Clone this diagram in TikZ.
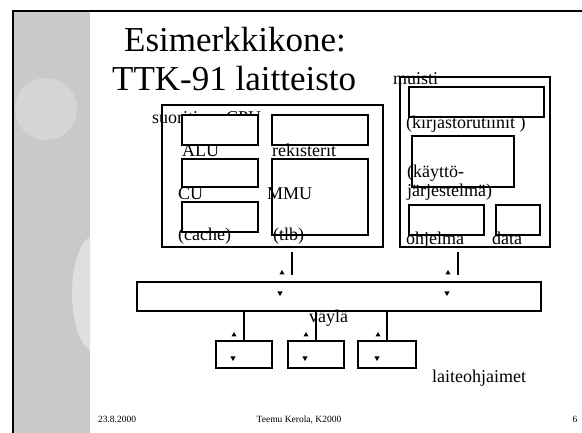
\documentclass[tikz,border=0pt]{standalone}
\usepackage{fontspec}
\setmainfont{Liberation Serif}
\usetikzlibrary{shapes.geometric}
\definecolor{bandgray}{RGB}{201,201,201}
\definecolor{spotgray}{RGB}{213,213,213}
\definecolor{palegray}{RGB}{223,223,223}

\begin{document}
\begin{tikzpicture}[x=1pt, y=-1pt,
  box/.style={rectangle, draw, fill=white, line width=1.2pt, inner sep=0pt, outer sep=0pt},
  frame/.style={rectangle, draw, line width=1.2pt, inner sep=0pt, outer sep=0pt},
  lbl/.style={anchor=base west, inner sep=0pt, font=\fontsize{18}{20}\selectfont},
  foot/.style={anchor=base, inner sep=0pt, font=\fontsize{9.5}{11}\selectfont},
  link/.style={line width=1.2pt},
  tipup/.style={regular polygon, regular polygon sides=3, fill, draw=none, inner sep=0pt, minimum size=6pt},
  tipdown/.style={tipup, shape border rotate=180}
]
\useasboundingbox (0,0) rectangle (582,433);

% Slide background
\fill[bandgray] (13,11) rectangle (90,433);
\begin{scope}
  \clip (13,11) rectangle (90,433);
  \fill[spotgray] (46,109) circle (31pt);
  \fill[palegray] (95,293.5) ellipse (23pt and 58pt);
\end{scope}
\draw[line width=1.6pt] (582,11) -| (13,433);

% Title
\node[anchor=base west, inner sep=0pt, font=\fontsize{35}{40}\selectfont] (title1) at (124,52) {Esimerkkikone:};
\node[anchor=base west, inner sep=0pt, font=\fontsize{35}{40}\selectfont] (title2) at (112,91) {TTK-91 laitteisto};

% Processor
\node[frame, minimum width=221pt, minimum height=142pt] (cpu) at (272.5,176) {};
\node[lbl] (cpulbl) at (152,124) {suoritin};
\node[lbl] (cpuname) at (226,124) {CPU};

\node[box, minimum width=76pt, minimum height=30pt] (alu) at (220,130) {};
\node[box, minimum width=76pt, minimum height=28pt] (cu) at (220,173) {};
\node[box, minimum width=76pt, minimum height=30pt] (cache) at (220,217) {};
\node[box, minimum width=96pt, minimum height=30pt] (regs) at (320,130) {};
\node[box, minimum width=96pt, minimum height=76pt] (mmu) at (320,197) {};

\node[lbl] (alulbl) at (182,157) {ALU};
\node[lbl] (regslbl) at (272,157) {rekisterit};
\node[lbl] (culbl) at (178,200) {CU};
\node[lbl] (mmulbl) at (267,200) {MMU};
\node[lbl] (cachelbl) at (178,241) {(cache)};
\node[lbl] (tlblbl) at (273,241) {(tlb)};

% Memory
\node[frame, minimum width=150pt, minimum height=170pt] (mem) at (475,162) {};
\node[box, minimum width=135pt, minimum height=30pt] (lib) at (476.5,102) {};
\node[box, minimum width=102pt, minimum height=51pt] (os) at (463,161.5) {};
\node[box, minimum width=75pt, minimum height=30pt] (prog) at (446.5,220) {};
\node[box, minimum width=44pt, minimum height=30pt] (data) at (518,220) {};

\node[lbl] (memlbl) at (393,85) {muisti};
\node[lbl] (liblbl) at (406,129) {(kirjastorutiinit )};
\node[lbl] (oslbl) at (407,178) {(käyttö-};
\node[lbl] (oslbl2) at (407,197) {järjestelmä)};
\node[lbl] (proglbl) at (406,245) {ohjelma};
\node[lbl] (datalbl) at (492,245) {data};

% Bus and device controllers
\node[frame, minimum width=404pt, minimum height=29pt] (bus) at (339,296.5) {};
\node[lbl] (buslbl) at (309,323) {väylä};

\node[frame, minimum width=56pt, minimum height=27pt] (dev1) at (244,354.5) {};
\node[frame, minimum width=56pt, minimum height=27pt] (dev2) at (316,354.5) {};
\node[frame, minimum width=58pt, minimum height=27pt] (dev3) at (387,354.5) {};
\node[lbl] (devlbl) at (432,382) {laiteohjaimet};

% Connectors
\draw[link, shorten <=5pt, shorten >=7pt] ([xshift=19.5pt]cpu.south) -- ([xshift=19.5pt]cpu.south |- bus.north);
\draw[link, shorten <=5pt, shorten >=7pt] ([xshift=-17pt]mem.south) -- ([xshift=-17pt]mem.south |- bus.north);
\draw[link] (dev1.north |- bus.south) -- (dev1.north);
\draw[link] (dev2.north |- bus.south) -- (dev2.north);
\draw[link] (dev3.north |- bus.south) -- (dev3.north);

% Small arrow marks
\node[tipup] (cpuup) at (282,273) {};
\node[tipdown] (cpudown) at (280,293) {};
\node[tipup] (memup) at (448,273) {};
\node[tipdown] (memdown) at (447,293) {};
\node[tipup] (dev1up) at (234,335) {};
\node[tipup] (dev2up) at (306,335) {};
\node[tipup] (dev3up) at (378,335) {};
\node[tipdown] (dev1down) at (233,358) {};
\node[tipdown] (dev2down) at (305,358) {};
\node[tipdown] (dev3down) at (377,358) {};

% Footer
\node[foot] (date) at (117,422) {23.8.2000};
\node[foot] (author) at (299,422) {Teemu Kerola, K2000};
\node[foot] (page) at (575,422) {6};

\end{tikzpicture}
\end{document}
